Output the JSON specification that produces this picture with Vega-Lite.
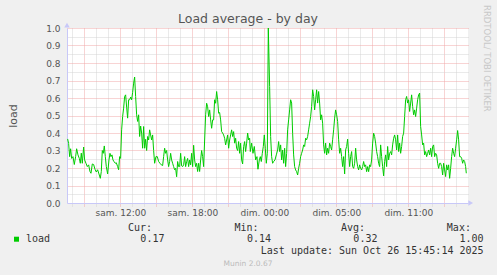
{
  "$schema": "https://vega.github.io/schema/vega-lite/v6.json",
  "width": 401,
  "height": 175,
  "autosize": "none",
  "padding": {"left": 67, "top": 28, "right": 29, "bottom": 72},
  "background": "#f0f0f0",
  "view": {"fill": "#ffffff", "stroke": null},
  "config": {
    "font": "DejaVu Sans",
    "axis": {
      "labelFont": "DejaVu Sans", "labelFontSize": 9, "labelColor": "#555555",
      "labelOverlap": false, "labelFlush": false, "labelBound": false,
      "grid": true, "gridDash": [1, 1], "gridWidth": 1, "tickDash": [1, 1],
      "domain": true, "domainColor": "#c8c8f8", "domainWidth": 1,
      "titleFont": "DejaVu Sans", "titleFontSize": 11, "titleFontWeight": "normal", "titleColor": "#555555"
    },
    "axisX": {"ticks": true, "tickSize": 3, "labelPadding": 2},
    "axisY": {"ticks": false, "labelPadding": 7, "titlePadding": 27}
  },
  "title": {"text": "Load average - by day", "font": "DejaVu Sans", "fontSize": 12.5, "fontWeight": "normal", "color": "#555555", "anchor": "middle", "frame": "group", "dx": -19.5, "baseline": "alphabetic", "offset": -30},
  "datasets": {
    "load": [
      {"hour": -4.389, "load": 0.366}, {"hour": -4.306, "load": 0.34}, {"hour": -4.222, "load": 0.265}, {"hour": -4.139, "load": 0.31},
      {"hour": -4.056, "load": 0.255}, {"hour": -3.944, "load": 0.265}, {"hour": -3.833, "load": 0.22}, {"hour": -3.722, "load": 0.265},
      {"hour": -3.639, "load": 0.31}, {"hour": -3.528, "load": 0.275}, {"hour": -3.417, "load": 0.255}, {"hour": -3.333, "load": 0.227},
      {"hour": -3.25, "load": 0.285}, {"hour": -3.167, "load": 0.227}, {"hour": -3.056, "load": 0.32}, {"hour": -2.972, "load": 0.246},
      {"hour": -2.861, "load": 0.227}, {"hour": -2.75, "load": 0.208}, {"hour": -2.639, "load": 0.218}, {"hour": -2.528, "load": 0.18},
      {"hour": -2.444, "load": 0.17}, {"hour": -2.333, "load": 0.223}, {"hour": -2.222, "load": 0.22}, {"hour": -2.111, "load": 0.193},
      {"hour": -2.0, "load": 0.177}, {"hour": -1.889, "load": 0.19}, {"hour": -1.778, "load": 0.166}, {"hour": -1.667, "load": 0.141},
      {"hour": -1.583, "load": 0.18}, {"hour": -1.5, "load": 0.3}, {"hour": -1.417, "load": 0.284}, {"hour": -1.333, "load": 0.326},
      {"hour": -1.25, "load": 0.265}, {"hour": -1.167, "load": 0.208}, {"hour": -1.056, "load": 0.166}, {"hour": -0.944, "load": 0.246},
      {"hour": -0.861, "load": 0.284}, {"hour": -0.778, "load": 0.265}, {"hour": -0.694, "load": 0.275}, {"hour": -0.611, "load": 0.246},
      {"hour": -0.528, "load": 0.237}, {"hour": -0.417, "load": 0.227}, {"hour": -0.333, "load": 0.23}, {"hour": -0.222, "load": 0.208},
      {"hour": -0.139, "load": 0.19}, {"hour": -0.056, "load": 0.265}, {"hour": 0.028, "load": 0.255}, {"hour": 0.111, "load": 0.418},
      {"hour": 0.194, "load": 0.494}, {"hour": 0.278, "load": 0.542}, {"hour": 0.361, "load": 0.609}, {"hour": 0.444, "load": 0.618},
      {"hour": 0.528, "load": 0.548}, {"hour": 0.611, "load": 0.485}, {"hour": 0.694, "load": 0.59}, {"hour": 0.778, "load": 0.59},
      {"hour": 0.861, "load": 0.605}, {"hour": 0.944, "load": 0.59}, {"hour": 1.028, "load": 0.632}, {"hour": 1.111, "load": 0.685},
      {"hour": 1.194, "load": 0.72}, {"hour": 1.278, "load": 0.609}, {"hour": 1.361, "load": 0.504}, {"hour": 1.444, "load": 0.466},
      {"hour": 1.528, "load": 0.504}, {"hour": 1.611, "load": 0.38}, {"hour": 1.694, "load": 0.44}, {"hour": 1.778, "load": 0.4},
      {"hour": 1.861, "load": 0.313}, {"hour": 1.944, "load": 0.437}, {"hour": 2.028, "load": 0.313}, {"hour": 2.111, "load": 0.364},
      {"hour": 2.194, "load": 0.3}, {"hour": 2.278, "load": 0.38}, {"hour": 2.361, "load": 0.36}, {"hour": 2.444, "load": 0.418},
      {"hour": 2.528, "load": 0.389}, {"hour": 2.611, "load": 0.36}, {"hour": 2.694, "load": 0.389}, {"hour": 2.778, "load": 0.3},
      {"hour": 2.861, "load": 0.227}, {"hour": 2.972, "load": 0.265}, {"hour": 3.083, "load": 0.265}, {"hour": 3.194, "load": 0.237},
      {"hour": 3.306, "load": 0.227}, {"hour": 3.417, "load": 0.218}, {"hour": 3.528, "load": 0.214}, {"hour": 3.611, "load": 0.265},
      {"hour": 3.694, "load": 0.313}, {"hour": 3.778, "load": 0.284}, {"hour": 3.861, "load": 0.3}, {"hour": 3.944, "load": 0.246},
      {"hour": 4.028, "load": 0.208}, {"hour": 4.111, "load": 0.237}, {"hour": 4.194, "load": 0.284}, {"hour": 4.278, "load": 0.246},
      {"hour": 4.361, "load": 0.227}, {"hour": 4.444, "load": 0.208}, {"hour": 4.528, "load": 0.19}, {"hour": 4.611, "load": 0.198},
      {"hour": 4.694, "load": 0.15}, {"hour": 4.778, "load": 0.237}, {"hour": 4.861, "load": 0.208}, {"hour": 4.944, "load": 0.208},
      {"hour": 5.028, "load": 0.284}, {"hour": 5.111, "load": 0.212}, {"hour": 5.194, "load": 0.208}, {"hour": 5.278, "load": 0.218},
      {"hour": 5.361, "load": 0.265}, {"hour": 5.444, "load": 0.208}, {"hour": 5.528, "load": 0.237}, {"hour": 5.611, "load": 0.255},
      {"hour": 5.694, "load": 0.208}, {"hour": 5.778, "load": 0.246}, {"hour": 5.861, "load": 0.218}, {"hour": 5.944, "load": 0.284},
      {"hour": 6.028, "load": 0.208}, {"hour": 6.111, "load": 0.33}, {"hour": 6.194, "load": 0.246}, {"hour": 6.278, "load": 0.208},
      {"hour": 6.361, "load": 0.227}, {"hour": 6.444, "load": 0.18}, {"hour": 6.528, "load": 0.227}, {"hour": 6.611, "load": 0.18},
      {"hour": 6.694, "load": 0.246}, {"hour": 6.778, "load": 0.3}, {"hour": 6.861, "load": 0.265}, {"hour": 6.944, "load": 0.208},
      {"hour": 7.028, "load": 0.36}, {"hour": 7.111, "load": 0.504}, {"hour": 7.194, "load": 0.57}, {"hour": 7.278, "load": 0.55},
      {"hour": 7.361, "load": 0.494}, {"hour": 7.444, "load": 0.532}, {"hour": 7.528, "load": 0.475}, {"hour": 7.611, "load": 0.427},
      {"hour": 7.694, "load": 0.475}, {"hour": 7.778, "load": 0.475}, {"hour": 7.861, "load": 0.59}, {"hour": 7.944, "load": 0.57},
      {"hour": 8.028, "load": 0.637}, {"hour": 8.111, "load": 0.59}, {"hour": 8.194, "load": 0.513}, {"hour": 8.278, "load": 0.517},
      {"hour": 8.361, "load": 0.475}, {"hour": 8.444, "load": 0.408}, {"hour": 8.528, "load": 0.4}, {"hour": 8.611, "load": 0.389},
      {"hour": 8.694, "load": 0.37}, {"hour": 8.778, "load": 0.332}, {"hour": 8.861, "load": 0.36}, {"hour": 8.944, "load": 0.389},
      {"hour": 9.028, "load": 0.313}, {"hour": 9.111, "load": 0.36}, {"hour": 9.194, "load": 0.389}, {"hour": 9.278, "load": 0.418},
      {"hour": 9.361, "load": 0.38}, {"hour": 9.444, "load": 0.408}, {"hour": 9.528, "load": 0.342}, {"hour": 9.611, "load": 0.37},
      {"hour": 9.694, "load": 0.313}, {"hour": 9.778, "load": 0.3}, {"hour": 9.861, "load": 0.351}, {"hour": 9.944, "load": 0.284},
      {"hour": 10.028, "load": 0.342}, {"hour": 10.111, "load": 0.246}, {"hour": 10.194, "load": 0.223}, {"hour": 10.278, "load": 0.322},
      {"hour": 10.361, "load": 0.351}, {"hour": 10.444, "load": 0.294}, {"hour": 10.528, "load": 0.342}, {"hour": 10.611, "load": 0.4},
      {"hour": 10.694, "load": 0.36}, {"hour": 10.778, "load": 0.37}, {"hour": 10.833, "load": 0.294}, {"hour": 10.944, "load": 0.342},
      {"hour": 11.056, "load": 0.284}, {"hour": 11.167, "load": 0.323}, {"hour": 11.278, "load": 0.246}, {"hour": 11.389, "load": 0.265},
      {"hour": 11.472, "load": 0.193}, {"hour": 11.583, "load": 0.246}, {"hour": 11.667, "load": 0.265}, {"hour": 11.75, "load": 0.237},
      {"hour": 11.833, "load": 0.284}, {"hour": 11.917, "load": 0.323}, {"hour": 12.0, "load": 0.389}, {"hour": 12.083, "load": 0.313},
      {"hour": 12.167, "load": 0.227}, {"hour": 12.25, "load": 0.284}, {"hour": 12.333, "load": 1.0}, {"hour": 12.444, "load": 0.666},
      {"hour": 12.528, "load": 0.38}, {"hour": 12.611, "load": 0.265}, {"hour": 12.694, "load": 0.227}, {"hour": 12.778, "load": 0.237},
      {"hour": 12.889, "load": 0.246}, {"hour": 13.0, "load": 0.275}, {"hour": 13.111, "load": 0.303}, {"hour": 13.194, "load": 0.351},
      {"hour": 13.278, "load": 0.294}, {"hour": 13.361, "load": 0.332}, {"hour": 13.444, "load": 0.246}, {"hour": 13.528, "load": 0.303},
      {"hour": 13.611, "load": 0.227}, {"hour": 13.694, "load": 0.313}, {"hour": 13.778, "load": 0.208}, {"hour": 13.861, "load": 0.284},
      {"hour": 13.944, "load": 0.418}, {"hour": 14.028, "load": 0.475}, {"hour": 14.111, "load": 0.532}, {"hour": 14.194, "load": 0.59},
      {"hour": 14.278, "load": 0.571}, {"hour": 14.361, "load": 0.399}, {"hour": 14.444, "load": 0.275}, {"hour": 14.528, "load": 0.208},
      {"hour": 14.611, "load": 0.189}, {"hour": 14.694, "load": 0.179}, {"hour": 14.778, "load": 0.16}, {"hour": 14.861, "load": 0.198},
      {"hour": 14.944, "load": 0.227}, {"hour": 15.028, "load": 0.265}, {"hour": 15.111, "load": 0.284}, {"hour": 15.194, "load": 0.303},
      {"hour": 15.278, "load": 0.332}, {"hour": 15.361, "load": 0.323}, {"hour": 15.444, "load": 0.37}, {"hour": 15.528, "load": 0.361},
      {"hour": 15.611, "load": 0.38}, {"hour": 15.694, "load": 0.418}, {"hour": 15.778, "load": 0.456}, {"hour": 15.861, "load": 0.494},
      {"hour": 15.944, "load": 0.552}, {"hour": 16.028, "load": 0.647}, {"hour": 16.111, "load": 0.609}, {"hour": 16.194, "load": 0.532},
      {"hour": 16.278, "load": 0.59}, {"hour": 16.361, "load": 0.647}, {"hour": 16.444, "load": 0.571}, {"hour": 16.528, "load": 0.637},
      {"hour": 16.611, "load": 0.571}, {"hour": 16.694, "load": 0.475}, {"hour": 16.778, "load": 0.504}, {"hour": 16.861, "load": 0.456},
      {"hour": 16.944, "load": 0.332}, {"hour": 17.028, "load": 0.284}, {"hour": 17.111, "load": 0.342}, {"hour": 17.194, "load": 0.275},
      {"hour": 17.278, "load": 0.313}, {"hour": 17.361, "load": 0.284}, {"hour": 17.444, "load": 0.342}, {"hour": 17.528, "load": 0.323},
      {"hour": 17.611, "load": 0.303}, {"hour": 17.694, "load": 0.361}, {"hour": 17.778, "load": 0.418}, {"hour": 17.861, "load": 0.485},
      {"hour": 17.944, "load": 0.532}, {"hour": 18.028, "load": 0.504}, {"hour": 18.111, "load": 0.466}, {"hour": 18.194, "load": 0.361},
      {"hour": 18.278, "load": 0.284}, {"hour": 18.361, "load": 0.313}, {"hour": 18.444, "load": 0.265}, {"hour": 18.528, "load": 0.208},
      {"hour": 18.611, "load": 0.265}, {"hour": 18.694, "load": 0.166}, {"hour": 18.778, "load": 0.303}, {"hour": 18.861, "load": 0.323},
      {"hour": 18.944, "load": 0.365}, {"hour": 19.028, "load": 0.284}, {"hour": 19.111, "load": 0.208}, {"hour": 19.194, "load": 0.265},
      {"hour": 19.278, "load": 0.294}, {"hour": 19.361, "load": 0.208}, {"hour": 19.444, "load": 0.198}, {"hour": 19.528, "load": 0.227},
      {"hour": 19.611, "load": 0.313}, {"hour": 19.694, "load": 0.246}, {"hour": 19.778, "load": 0.208}, {"hour": 19.861, "load": 0.189},
      {"hour": 19.944, "load": 0.218}, {"hour": 20.028, "load": 0.198}, {"hour": 20.111, "load": 0.189}, {"hour": 20.194, "load": 0.208},
      {"hour": 20.278, "load": 0.237}, {"hour": 20.361, "load": 0.208}, {"hour": 20.444, "load": 0.218}, {"hour": 20.528, "load": 0.179},
      {"hour": 20.611, "load": 0.208}, {"hour": 20.694, "load": 0.179}, {"hour": 20.778, "load": 0.218}, {"hour": 20.861, "load": 0.208},
      {"hour": 20.944, "load": 0.246}, {"hour": 21.028, "load": 0.342}, {"hour": 21.111, "load": 0.399}, {"hour": 21.194, "load": 0.38},
      {"hour": 21.278, "load": 0.342}, {"hour": 21.361, "load": 0.294}, {"hour": 21.444, "load": 0.265}, {"hour": 21.528, "load": 0.227},
      {"hour": 21.611, "load": 0.208}, {"hour": 21.694, "load": 0.332}, {"hour": 21.778, "load": 0.265}, {"hour": 21.861, "load": 0.208},
      {"hour": 21.944, "load": 0.155}, {"hour": 22.028, "load": 0.237}, {"hour": 22.111, "load": 0.275}, {"hour": 22.194, "load": 0.208},
      {"hour": 22.278, "load": 0.323}, {"hour": 22.361, "load": 0.246}, {"hour": 22.444, "load": 0.284}, {"hour": 22.528, "load": 0.294},
      {"hour": 22.611, "load": 0.275}, {"hour": 22.694, "load": 0.332}, {"hour": 22.778, "load": 0.37}, {"hour": 22.861, "load": 0.389},
      {"hour": 22.944, "load": 0.361}, {"hour": 23.028, "load": 0.303}, {"hour": 23.111, "load": 0.389}, {"hour": 23.194, "load": 0.294},
      {"hour": 23.278, "load": 0.342}, {"hour": 23.361, "load": 0.284}, {"hour": 23.444, "load": 0.323}, {"hour": 23.528, "load": 0.38},
      {"hour": 23.611, "load": 0.399}, {"hour": 23.694, "load": 0.494}, {"hour": 23.778, "load": 0.59}, {"hour": 23.861, "load": 0.609},
      {"hour": 23.944, "load": 0.571}, {"hour": 24.028, "load": 0.59}, {"hour": 24.111, "load": 0.523}, {"hour": 24.194, "load": 0.571},
      {"hour": 24.278, "load": 0.618}, {"hour": 24.361, "load": 0.552}, {"hour": 24.444, "load": 0.504}, {"hour": 24.528, "load": 0.532},
      {"hour": 24.611, "load": 0.494}, {"hour": 24.694, "load": 0.542}, {"hour": 24.778, "load": 0.59}, {"hour": 24.861, "load": 0.618},
      {"hour": 24.944, "load": 0.628}, {"hour": 25.028, "load": 0.437}, {"hour": 25.111, "load": 0.389}, {"hour": 25.194, "load": 0.332},
      {"hour": 25.278, "load": 0.342}, {"hour": 25.361, "load": 0.275}, {"hour": 25.444, "load": 0.294}, {"hour": 25.528, "load": 0.265},
      {"hour": 25.611, "load": 0.284}, {"hour": 25.694, "load": 0.303}, {"hour": 25.778, "load": 0.275}, {"hour": 25.861, "load": 0.313},
      {"hour": 25.944, "load": 0.265}, {"hour": 26.028, "load": 0.323}, {"hour": 26.111, "load": 0.332}, {"hour": 26.194, "load": 0.265},
      {"hour": 26.278, "load": 0.284}, {"hour": 26.361, "load": 0.275}, {"hour": 26.444, "load": 0.227}, {"hour": 26.528, "load": 0.198},
      {"hour": 26.611, "load": 0.227}, {"hour": 26.694, "load": 0.227}, {"hour": 26.778, "load": 0.208}, {"hour": 26.861, "load": 0.16},
      {"hour": 26.944, "load": 0.227}, {"hour": 27.028, "load": 0.189}, {"hour": 27.111, "load": 0.151}, {"hour": 27.194, "load": 0.218},
      {"hour": 27.278, "load": 0.189}, {"hour": 27.361, "load": 0.218}, {"hour": 27.444, "load": 0.141}, {"hour": 27.528, "load": 0.198},
      {"hour": 27.611, "load": 0.265}, {"hour": 27.694, "load": 0.313}, {"hour": 27.778, "load": 0.284}, {"hour": 27.861, "load": 0.265},
      {"hour": 27.944, "load": 0.313}, {"hour": 28.028, "load": 0.361}, {"hour": 28.111, "load": 0.414}, {"hour": 28.194, "load": 0.361},
      {"hour": 28.278, "load": 0.265}, {"hour": 28.361, "load": 0.265}, {"hour": 28.444, "load": 0.256}, {"hour": 28.528, "load": 0.227},
      {"hour": 28.611, "load": 0.246}, {"hour": 28.694, "load": 0.237}, {"hour": 28.778, "load": 0.208}, {"hour": 28.833, "load": 0.17}
    ],
    "stats": [{"series": "load", "cur": 0.17, "min": 0.14, "avg": 0.32, "max": 1.0}],
    "footer": [{"update": "Last update: Sun Oct 26 15:45:14 2025", "version": "Munin 2.0.67", "credit": "RRDTOOL/ TOBI OETIKER"}]
  },
  "layer": [
    {
      "data": {"name": "load"},
      "mark": {"type": "line", "color": "#00cc00", "strokeWidth": 1, "interpolate": "linear"},
      "encoding": {
        "x": {
          "field": "hour", "type": "quantitative",
          "scale": {"domain": [-4.442, 28.975], "nice": false, "zero": false},
          "axis": {
            "title": null, "orient": "bottom", "tickCount": 100,
            "values": [-4, -3, -2, -1, 0, 1, 2, 3, 4, 5, 6, 7, 8, 9, 10, 11, 12, 13, 14, 15, 16, 17, 18, 19, 20, 21, 22, 23, 24, 25, 26, 27, 28],
            "labelExpr": "datum.value == 0 ? 'sam. 12:00' : datum.value == 6 ? 'sam. 18:00' : datum.value == 12 ? 'dim. 00:00' : datum.value == 18 ? 'dim. 05:00' : datum.value == 24 ? 'dim. 11:00' : ''",
            "labelOverlap": false, "gridDash": [1, 1], "tickDash": [1, 1],
            "tickColor": {"condition": {"test": "datum.value % 3 === 0", "value": "#f0a8a8"}, "value": "#d4d4d4"},
            "gridColor": {"condition": {"test": "datum.value % 3 === 0", "value": "#f0a8a8"}, "value": "#d4d4d4"}
          }
        },
        "y": {
          "field": "load", "type": "quantitative",
          "scale": {"domain": [0, 1], "nice": false, "zero": true},
          "axis": {
            "title": "load", "orient": "left", "tickCount": 100,
            "values": [0, 0.05, 0.1, 0.15, 0.2, 0.25, 0.3, 0.35, 0.4, 0.45, 0.5, 0.55, 0.6, 0.65, 0.7, 0.75, 0.8, 0.85, 0.9, 0.95, 1],
            "labelExpr": "round(datum.value * 100) % 10 === 0 ? format(datum.value, '.1f') : ''",
            "labelOverlap": false, "gridDash": [1, 1],
            "gridColor": {"condition": {"test": "round(datum.value * 100) % 10 === 0", "value": "#f0a8a8"}, "value": "#d4d4d4"},
            "gridOpacity": {"condition": {"test": "datum.value === 0", "value": 0}, "value": 1}
          }
        }
      }
    },
    {
      "data": {"name": "footer"},
      "mark": {"type": "point", "shape": "triangle-up", "filled": true, "size": 30, "color": "#c8c8f8", "opacity": 1},
      "encoding": {"x": {"datum": -4.442}, "y": {"datum": 1.017}}
    },
    {
      "data": {"name": "footer"},
      "mark": {"type": "point", "shape": "triangle-right", "filled": true, "size": 30, "color": "#c8c8f8", "opacity": 1},
      "encoding": {"x": {"datum": 29.2}, "y": {"datum": 0}}
    },
    {
      "data": {"name": "stats"},
      "mark": {"type": "point", "shape": "square", "filled": true, "size": 25, "color": "#00cc00", "opacity": 1},
      "encoding": {"x": {"datum": -8.65}, "y": {"datum": -0.2069}}
    },
    {
      "data": {"name": "stats"},
      "mark": {"type": "text", "align": "left", "baseline": "middle", "font": "DejaVu Sans Mono", "fontSize": 10, "color": "#333333"},
      "encoding": {"x": {"datum": -7.86}, "y": {"datum": -0.2074}, "text": {"field": "series"}}
    },
    {
      "data": {"name": "stats"},
      "mark": {"type": "text", "align": "right", "baseline": "middle", "font": "DejaVu Sans Mono", "fontSize": 10, "color": "#333333", "text": "Cur:"},
      "encoding": {"x": {"datum": 2.64}, "y": {"datum": -0.1446}}
    },
    {
      "data": {"name": "stats"},
      "mark": {"type": "text", "align": "right", "baseline": "middle", "font": "DejaVu Sans Mono", "fontSize": 10, "color": "#333333", "text": "Min:"},
      "encoding": {"x": {"datum": 11.52}, "y": {"datum": -0.1446}}
    },
    {
      "data": {"name": "stats"},
      "mark": {"type": "text", "align": "right", "baseline": "middle", "font": "DejaVu Sans Mono", "fontSize": 10, "color": "#333333", "text": "Avg:"},
      "encoding": {"x": {"datum": 20.39}, "y": {"datum": -0.1446}}
    },
    {
      "data": {"name": "stats"},
      "mark": {"type": "text", "align": "right", "baseline": "middle", "font": "DejaVu Sans Mono", "fontSize": 10, "color": "#333333", "text": "Max:"},
      "encoding": {"x": {"datum": 29.22}, "y": {"datum": -0.1446}}
    },
    {
      "data": {"name": "stats"},
      "mark": {"type": "text", "align": "right", "baseline": "middle", "font": "DejaVu Sans Mono", "fontSize": 10, "color": "#333333"},
      "encoding": {"x": {"datum": 3.68}, "y": {"datum": -0.2074}, "text": {"field": "cur", "type": "quantitative", "format": ".2f"}}
    },
    {
      "data": {"name": "stats"},
      "mark": {"type": "text", "align": "right", "baseline": "middle", "font": "DejaVu Sans Mono", "fontSize": 10, "color": "#333333"},
      "encoding": {"x": {"datum": 12.56}, "y": {"datum": -0.2074}, "text": {"field": "min", "type": "quantitative", "format": ".2f"}}
    },
    {
      "data": {"name": "stats"},
      "mark": {"type": "text", "align": "right", "baseline": "middle", "font": "DejaVu Sans Mono", "fontSize": 10, "color": "#333333"},
      "encoding": {"x": {"datum": 21.43}, "y": {"datum": -0.2074}, "text": {"field": "avg", "type": "quantitative", "format": ".2f"}}
    },
    {
      "data": {"name": "stats"},
      "mark": {"type": "text", "align": "right", "baseline": "middle", "font": "DejaVu Sans Mono", "fontSize": 10, "color": "#333333"},
      "encoding": {"x": {"datum": 30.27}, "y": {"datum": -0.2074}, "text": {"field": "max", "type": "quantitative", "format": ".2f"}}
    },
    {
      "data": {"name": "footer"},
      "mark": {"type": "text", "align": "right", "baseline": "middle", "font": "DejaVu Sans Mono", "fontSize": 10, "color": "#333333"},
      "encoding": {"x": {"datum": 30.27}, "y": {"datum": -0.2743}, "text": {"field": "update"}}
    },
    {
      "data": {"name": "footer"},
      "mark": {"type": "text", "align": "center", "baseline": "middle", "font": "DejaVu Sans", "fontSize": 7.5, "color": "#bbbbbb"},
      "encoding": {"x": {"datum": 10.64}, "y": {"datum": -0.3503}, "text": {"field": "version"}}
    },
    {
      "data": {"name": "footer"},
      "mark": {"type": "text", "align": "left", "baseline": "middle", "angle": 90, "font": "DejaVu Sans", "fontSize": 8.5, "color": "#c8c8c8"},
      "encoding": {"x": {"datum": 30.56}, "y": {"datum": 1.1314}, "text": {"field": "credit"}}
    }
  ]
}
